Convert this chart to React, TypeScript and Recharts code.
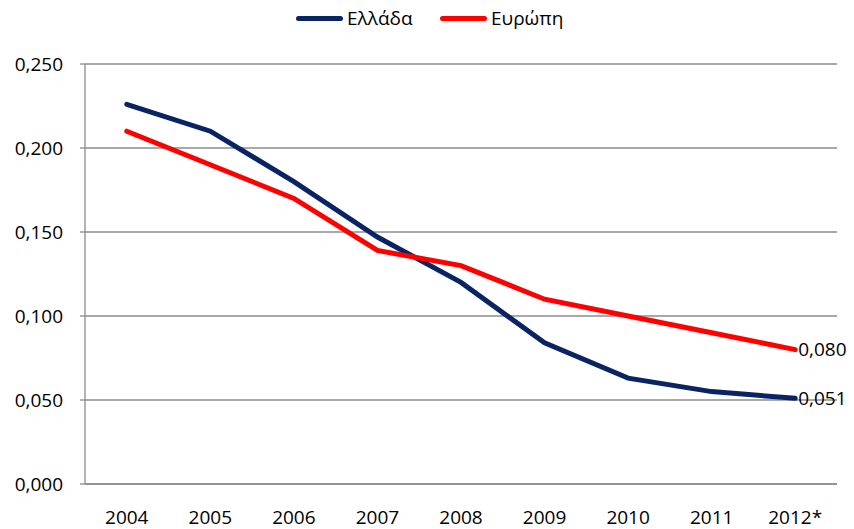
import React from "react";
import { LineChart, Line, XAxis, YAxis, CartesianGrid, LabelList } from "recharts";

const categories = ["2004", "2005", "2006", "2007", "2008", "2009", "2010", "2011", "2012*"];
const greece = [0.226, 0.21, 0.18, 0.147, 0.12, 0.084, 0.063, 0.055, 0.051];
const europe = [0.21, 0.19, 0.17, 0.139, 0.13, 0.11, 0.1, 0.09, 0.08];
const yTicks = [0, 0.05, 0.1, 0.15, 0.2, 0.25];
const seriesNames = ["Ελλάδα", "Ευρώπη"];
const colors = ["#0A2463", "#FF0000"];

const data = categories.map((c, i) => ({ x: i + 0.5, cat: c, greece: greece[i], europe: europe[i] }));

const FONT = "'Open Sans', 'Noto Sans', sans-serif";
const FS = 19;
const fmt = (v: number) => v.toFixed(3).replace(".", ",");

const lastLabel = (props: any) => {
  const { x, y, value, index } = props;
  if (index !== categories.length - 1) return null;
  return (
    <text x={x + 3} y={y} dy="0.35em" fontSize={FS} fontFamily={FONT} fill="#000">
      {fmt(value)}
    </text>
  );
};

const XTick = (props: any) => {
  const { x, y, payload } = props;
  const idx = Math.round(payload.value - 0.5);
  return (
    <text x={x} y={y + 32} textAnchor="middle" fontSize={FS} fontFamily={FONT} fill="#000">
      {categories[idx]}
    </text>
  );
};

const YTick = (props: any) => {
  const { x, y, payload } = props;
  return (
    <text x={x} y={y} dy="0.35em" textAnchor="end" fontSize={FS} fontFamily={FONT} fill="#000">
      {fmt(payload.value)}
    </text>
  );
};

const Legend = () => (
  <div style={{ position: "absolute", left: 0, top: 0, width: 854, height: 36, fontFamily: FONT, fontSize: FS }}>
    {seriesNames.map((n, i) => (
      <div key={n} style={{ position: "absolute", left: i === 0 ? 296 : 440, top: 5, display: "flex", alignItems: "center", height: 26 }}>
        <div style={{ width: 47, height: 5, borderRadius: 3, background: colors[i], marginRight: 4 }} />
        <span>{n}</span>
      </div>
    ))}
  </div>
);

export default function App() {
  return (
    <div style={{ position: "absolute", left: 0, top: 0, width: 854, height: 529, background: "#fff" }}>
      <LineChart width={854} height={529} data={data} margin={{ top: 64, right: 17, bottom: 0, left: 0 }}>
        <CartesianGrid vertical={false} stroke="#8c8c8c" strokeWidth={1.3} />
        <XAxis
          dataKey="x"
          type="number"
          domain={[0, 9]}
          ticks={[0.5, 1.5, 2.5, 3.5, 4.5, 5.5, 6.5, 7.5, 8.5]}
          tickLine={false}
          axisLine={{ stroke: "#8c8c8c", strokeWidth: 1.3 }}
          tick={<XTick />}
          height={45}
          interval={0}
        />
        <XAxis
          xAxisId="b"
          dataKey="x"
          type="number"
          domain={[0, 9]}
          ticks={[0, 1, 2, 3, 4, 5, 6, 7, 8, 9]}
          tick={false}
          tickSize={5}
          tickLine={{ stroke: "#8c8c8c", strokeWidth: 1.3 }}
          axisLine={false}
          height={0}
          interval={0}
        />
        <YAxis
          domain={[0, 0.25]}
          ticks={yTicks}
          width={85}
          tickSize={5}
          tickMargin={17}
          tickLine={{ stroke: "#8c8c8c", strokeWidth: 1.3 }}
          axisLine={{ stroke: "#8c8c8c", strokeWidth: 1.3 }}
          tick={<YTick />}
          interval={0}
        />
        <Line dataKey="greece" stroke={colors[0]} strokeWidth={5} dot={false} isAnimationActive={false} strokeLinecap="round">
          <LabelList dataKey="greece" content={lastLabel} />
        </Line>
        <Line dataKey="europe" stroke={colors[1]} strokeWidth={5} dot={false} isAnimationActive={false} strokeLinecap="round">
          <LabelList dataKey="europe" content={lastLabel} />
        </Line>
      </LineChart>
      <Legend />
    </div>
  );
}
